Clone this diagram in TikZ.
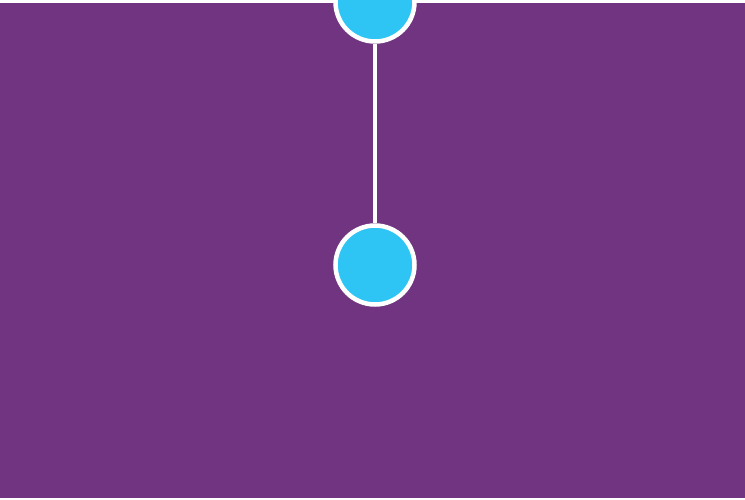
\documentclass[tikz,border=0pt]{standalone}
\definecolor{bgpurple}{RGB}{112,52,128}
\definecolor{dotcyan}{RGB}{46,197,245}
\tikzset{
  dot/.style={circle, draw=white, fill=dotcyan, line width=4.5pt, minimum size=79pt, inner sep=0pt},
  link/.style={draw=white, line width=4.5pt}
}
\begin{document}
\begin{tikzpicture}[x=1pt, y=-1pt]

  % frame and background
  \useasboundingbox (0,0) rectangle (745,500);
  \clip (0,0) rectangle (745,500);
  \fill[white] (0,0) rectangle (745,500);
  \fill[bgpurple] (0,3) rectangle (745,498);

  % nodes
  \node[dot] (upper) at (375,2) {};
  \node[dot] (lower) at (375,265) {};

  % connector
  \draw[link] (upper) -- (lower);

\end{tikzpicture}
\end{document}
